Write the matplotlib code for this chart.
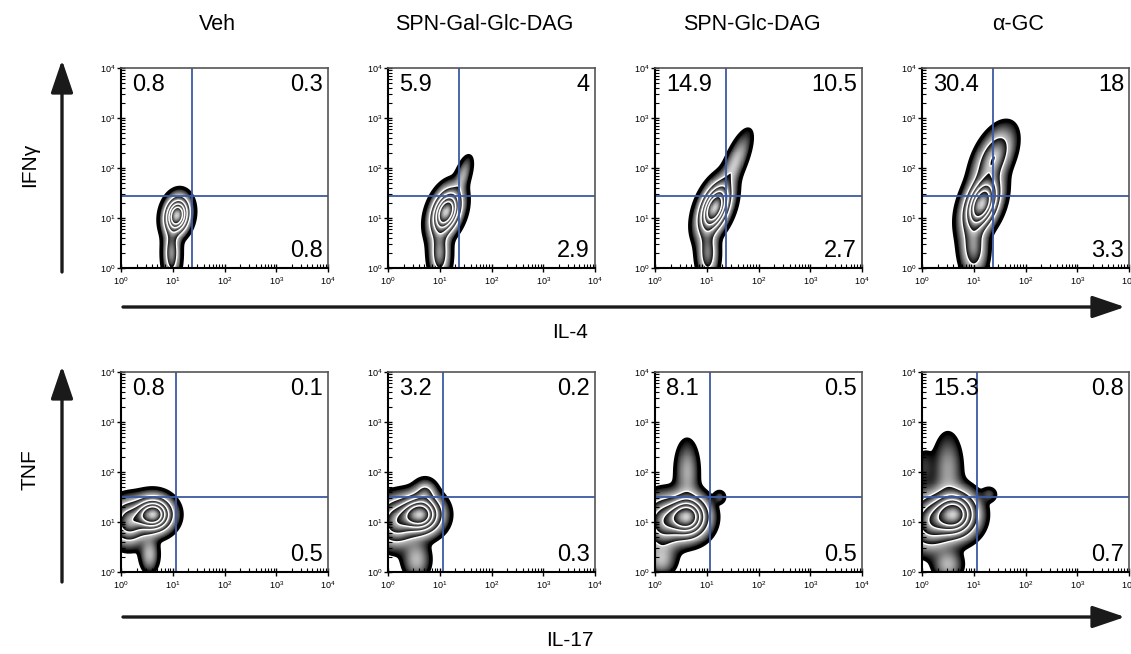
import numpy as np
import matplotlib
matplotlib.use("Agg")
import matplotlib.pyplot as plt
from matplotlib.patches import FancyArrowPatch
from matplotlib.ticker import LogLocator, LogFormatterSciNotation

plt.rcParams['font.family'] = ['Liberation Sans', 'DejaVu Sans']

# column / row labels
conditions = ["Veh", "SPN-Gal-Glc-DAG", "SPN-Glc-DAG", "α-GC"]
x_markers = ["IL-4", "IL-17"]
y_markers = ["IFNγ", "TNF"]

# quadrant percentages per row (upper-left, upper-right, lower-right)
q_upper_left = [["0.8", "5.9", "14.9", "30.4"],
                ["0.8", "3.2", "8.1", "15.3"]]
q_upper_right = [["0.3", "4", "10.5", "18"],
                 ["0.1", "0.2", "0.5", "0.8"]]
q_lower_right = [["0.8", "2.9", "2.7", "3.3"],
                 ["0.5", "0.3", "0.5", "0.7"]]

# quadrant gates (linear units) per row
gate_x = [24, 11.5]
gate_y = [28, 32]

# population shapes in log10 units: (mx, my, sx, sy, rho, weight)
populations = [
    [  # IL-4 / IFNg
        [(1.08, 1.05, 0.13, 0.20, 0.15, 1.0), (0.98, 0.3, 0.09, 0.28, 0.0, 0.26)],
        [(1.12, 1.12, 0.16, 0.25, 0.35, 1.0), (1.45, 1.85, 0.10, 0.22, 0.6, 0.10),
         (1.0, 0.3, 0.11, 0.28, 0.0, 0.26)],
        [(1.15, 1.2, 0.17, 0.28, 0.45, 1.0), (1.55, 2.1, 0.17, 0.35, 0.75, 0.13),
         (1.02, 0.3, 0.11, 0.28, 0.0, 0.24)],
        [(1.15, 1.28, 0.19, 0.30, 0.4, 1.0), (1.38, 2.2, 0.21, 0.32, 0.5, 0.32),
         (1.0, 0.4, 0.14, 0.30, 0.0, 0.25)],
    ],
    [  # IL-17 / TNF
        [(0.62, 1.15, 0.20, 0.19, 0.0, 1.0), (0.15, 1.0, 0.20, 0.24, 0.0, 0.45),
         (0.55, 0.35, 0.10, 0.20, 0.0, 0.12)],
        [(0.62, 1.15, 0.22, 0.21, 0.0, 1.0), (0.15, 1.0, 0.22, 0.26, 0.0, 0.45),
         (0.72, 1.6, 0.12, 0.14, 0.0, 0.15), (0.55, 0.25, 0.15, 0.22, 0.0, 0.12)],
        [(0.62, 1.1, 0.22, 0.23, 0.0, 1.0), (0.15, 1.0, 0.22, 0.28, 0.0, 0.45),
         (0.62, 2.0, 0.13, 0.36, 0.0, 0.11), (1.25, 1.5, 0.07, 0.08, 0.0, 0.05),
         (0.12, 0.25, 0.16, 0.18, 0.0, 0.12)],
        [(0.62, 1.15, 0.24, 0.25, 0.0, 1.0), (0.15, 1.0, 0.24, 0.30, 0.0, 0.45),
         (0.5, 2.05, 0.16, 0.42, 0.0, 0.10), (0.05, 2.1, 0.12, 0.25, 0.0, 0.04),
         (1.3, 1.55, 0.09, 0.09, 0.0, 0.05), (0.5, 0.15, 0.16, 0.18, 0.0, 0.12)],
    ],
]

# zebra contour levels, fraction of peak density
zebra_levels = [0.02, 0.14, 0.32, 0.52, 0.72, 1.0]

W, H = 1131, 654
col_left = [121, 388, 655, 922]
row_top = [68, 372]
ax_w, ax_h = 207, 200
blue = "#3b5ba5"


def density(comps, gx, gy):
    z = np.zeros_like(gx)
    for mx, my, sx, sy, rho, w in comps:
        dx = (gx - mx) / sx
        dy = (gy - my) / sy
        q = (dx ** 2 - 2 * rho * dx * dy + dy ** 2) / (1 - rho ** 2)
        z += w * np.exp(-0.5 * q)
    return z / z.max()


def zebra(ax, comps):
    g = np.linspace(-0.8, 4.3, 520)
    gx, gy = np.meshgrid(g, g)
    z = density(comps, gx, gy)
    lev = np.log(zebra_levels)
    lz = np.log(np.clip(z, 1e-12, None))
    idx = np.clip(np.searchsorted(lev, lz, side="right") - 1, 0, len(lev) - 2)
    frac = (lz - lev[idx]) / (lev[idx + 1] - lev[idx])
    shade = 0.82 * np.clip(frac, 0, 1) ** 1.3
    shade = np.ma.masked_where(z < zebra_levels[0], shade)
    X, Y = 10 ** gx, 10 ** gy
    ax.pcolormesh(X, Y, shade, cmap="gray", vmin=0, vmax=1, shading="auto", rasterized=True)
    ax.contour(X, Y, z, levels=zebra_levels[1:-1], colors="white", linewidths=1.0)
    ax.contour(X, Y, z, levels=[zebra_levels[0]], colors="black", linewidths=2.6)


fig = plt.figure(figsize=(W / 100, H / 100), dpi=100)

for r in range(2):
    for c in range(4):
        ax = fig.add_axes([col_left[c] / W, 1 - (row_top[r] + ax_h) / H, ax_w / W, ax_h / H])
        zebra(ax, populations[r][c])
        ax.set_xscale("log")
        ax.set_yscale("log")
        ax.set_xlim(1, 1e4)
        ax.set_ylim(1, 1e4)
        ax.axvline(gate_x[r], color=blue, lw=1.3)
        ax.axhline(gate_y[r], color=blue, lw=1.3)
        for axis in (ax.xaxis, ax.yaxis):
            axis.set_major_locator(LogLocator(base=10, numticks=6))
            axis.set_minor_locator(LogLocator(base=10, subs=np.arange(2, 10), numticks=12))
            axis.set_major_formatter(LogFormatterSciNotation())
        ax.tick_params(which="major", direction="inout", length=6, width=1, labelsize=6.5, pad=1)
        ax.tick_params(which="minor", direction="in", length=3, width=0.8)
        ax.tick_params(axis="x", pad=2)
        for side in ("left", "bottom"):
            ax.spines[side].set_linewidth(1.5)
            ax.spines[side].set_color("black")
        for side in ("top", "right"):
            ax.spines[side].set_linewidth(1.2)
            ax.spines[side].set_color("#555555")

        fs = 17
        ax.text(11 / ax_w, 1 - 6 / ax_h, q_upper_left[r][c], transform=ax.transAxes,
                ha="left", va="top", fontsize=fs)
        ax.text(1 - 5 / ax_w, 1 - 6 / ax_h, q_upper_right[r][c], transform=ax.transAxes,
                ha="right", va="top", fontsize=fs)
        ax.text(1 - 5 / ax_w, 6 / ax_h, q_lower_right[r][c], transform=ax.transAxes,
                ha="right", va="bottom", fontsize=fs)

# column titles
for c, name in enumerate(conditions):
    fig.text((col_left[c] + ax_w / 2 - 7) / W, 1 - 30 / H, name, ha="center",
             va="baseline", fontsize=15.5)


def arrow(x0, y0, x1, y1):
    a = FancyArrowPatch((x0 / W, 1 - y0 / H), (x1 / W, 1 - y1 / H),
                        transform=fig.transFigure, arrowstyle="-|>,head_length=1.0,head_width=0.34",
                        mutation_scale=20, lw=2.4, color="#1a1a1a", shrinkA=0, shrinkB=0)
    fig.add_artist(a)


# marker arrows and labels
arrow(123, 307, 1125, 307)
arrow(123, 617, 1125, 617)
arrow(62, 272, 62, 60)
arrow(62, 582, 62, 366)

fig.text(570 / W, 1 - 333 / H, x_markers[0], ha="center", va="center", fontsize=15)
fig.text(570 / W, 1 - 640 / H, x_markers[1], ha="center", va="center", fontsize=15)
fig.text(30 / W, 1 - 165 / H, y_markers[0], ha="center", va="center", rotation=90, fontsize=15)
fig.text(30 / W, 1 - 470 / H, y_markers[1], ha="center", va="center", rotation=90, fontsize=15)

fig.savefig("out.png", dpi=100)
